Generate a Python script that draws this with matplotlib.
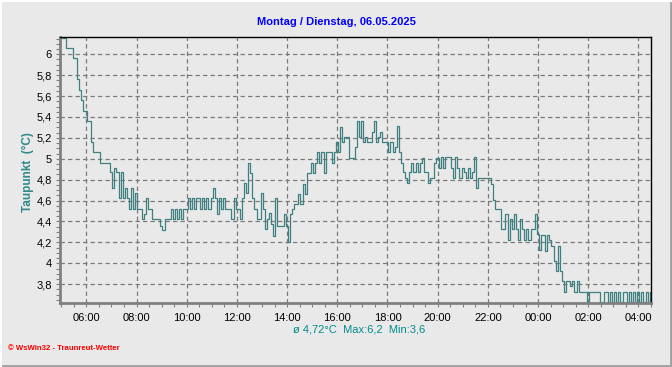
import numpy as np
import pandas as pd
import matplotlib
matplotlib.use("Agg")
import matplotlib.pyplot as plt
import matplotlib.dates as mdates
from matplotlib.ticker import MultipleLocator, FuncFormatter

# -----------------------------------------------------------------------
# Data: dew point, 5-minute samples, Mon 05.05. 04:57 -> Tue 06.05. 04:27
# -----------------------------------------------------------------------
START = "2025-05-05 04:57"
STEP = "5min"
dew_point = [
    6.16, 6.16, 6.16, 6.06, 6.06, 6.06, 5.96, 5.96, 5.76, 5.66, 5.56, 5.46,
    5.46, 5.36, 5.36, 5.16, 5.06, 5.06, 5.06, 4.96, 4.96, 4.96, 4.96, 4.96,
    4.87, 4.72, 4.91, 4.87, 4.62, 4.87, 4.62, 4.72, 4.62, 4.52, 4.72, 4.52,
    4.67, 4.52, 4.52, 4.42, 4.47, 4.62, 4.52, 4.52, 4.42, 4.42, 4.42, 4.42,
    4.36, 4.32, 4.42, 4.42, 4.42, 4.52, 4.42, 4.52, 4.42, 4.52, 4.42, 4.52,
    4.52, 4.62, 4.52, 4.62, 4.52, 4.62, 4.62, 4.52, 4.62, 4.52, 4.62, 4.52,
    4.62, 4.72, 4.62, 4.47, 4.62, 4.52, 4.62, 4.52, 4.52, 4.52, 4.42, 4.62,
    4.52, 4.52, 4.42, 4.62, 4.77, 4.67, 4.96, 4.86, 4.62, 4.52, 4.42, 4.42,
    4.67, 4.52, 4.33, 4.42, 4.48, 4.38, 4.26, 4.62, 4.36, 4.36, 4.36, 4.47,
    4.36, 4.20, 4.47, 4.52, 4.57, 4.57, 4.66, 4.57, 4.76, 4.66, 4.86, 4.86,
    4.96, 4.86, 4.96, 5.06, 4.96, 5.06, 4.86, 5.06, 5.06, 5.06, 4.96, 5.06,
    5.16, 5.06, 5.30, 5.16, 5.21, 5.21, 5.01, 5.01, 5.01, 5.11, 5.36, 5.21,
    5.36, 5.16, 5.21, 5.16, 5.16, 5.26, 5.36, 5.16, 5.21, 5.26, 5.16, 5.16,
    5.16, 5.06, 5.16, 5.06, 5.11, 5.31, 5.06, 4.96, 4.87, 4.82, 4.77, 4.87,
    4.96, 4.87, 4.96, 4.87, 4.96, 5.01, 4.87, 4.87, 4.77, 4.82, 4.82, 4.96,
    5.01, 4.91, 5.02, 4.91, 5.02, 5.02, 5.02, 4.91, 4.82, 5.02, 4.91, 4.82,
    4.91, 4.87, 4.82, 4.91, 4.82, 4.87, 5.02, 4.72, 4.82, 4.82, 4.82, 4.82,
    4.82, 4.82, 4.76, 4.61, 4.52, 4.52, 4.52, 4.33, 4.33, 4.47, 4.22, 4.42,
    4.33, 4.47, 4.33, 4.22, 4.42, 4.33, 4.22, 4.33, 4.22, 4.33, 4.33, 4.47,
    4.28, 4.13, 4.27, 4.27, 4.12, 4.27, 4.22, 4.17, 4.02, 3.93, 4.17, 3.93,
    3.83, 3.73, 3.83, 3.83, 3.78, 3.83, 3.73, 3.83, 3.73, 3.73, 3.73, 3.73,
    3.63, 3.73, 3.73, 3.73, 3.73, 3.73, 3.63, 3.63, 3.73, 3.73, 3.63, 3.73,
    3.63, 3.73, 3.63, 3.73, 3.63, 3.73, 3.73, 3.63, 3.73, 3.63, 3.73, 3.63,
    3.73, 3.63, 3.73, 3.63, 3.73, 3.63, 3.73,
]
times = pd.date_range(START, periods=len(dew_point), freq=STEP)

TITLE = "Montag / Dienstag, 06.05.2025"
YLABEL = "Taupunkt  (°C)"
STATS = "ø 4,72°C  Max:6,2  Min:3,6"
FOOTER = "© WsWin32 - Traunreut-Wetter"
X_RANGE = ("2025-05-05 04:57", "2025-05-06 04:30")
Y_RANGE = (3.62, 6.165)

BG = "#e9e9e9"
LINE = "#3f8080"
TEAL = "#2f8a8a"

plt.rcParams["font.family"] = ["Liberation Sans", "DejaVu Sans"]

fig = plt.figure(figsize=(6.72, 3.67), dpi=100, facecolor=BG)
ax = fig.add_axes([60 / 672, 1 - 303 / 367, 591 / 672, 266 / 367], facecolor=BG)

ax.step(times, dew_point, where="post", color=LINE, lw=0.9)

ax.set_xlim(pd.Timestamp(X_RANGE[0]), pd.Timestamp(X_RANGE[1]))
ax.set_ylim(*Y_RANGE)

# ticks
ax.xaxis.set_major_locator(mdates.HourLocator(byhour=range(0, 24, 2)))
ax.xaxis.set_minor_locator(mdates.MinuteLocator(byminute=[0, 30]))
ax.xaxis.set_major_formatter(mdates.DateFormatter("%H:%M"))
ax.yaxis.set_major_locator(MultipleLocator(0.2))
ax.yaxis.set_minor_locator(MultipleLocator(0.05))
ax.yaxis.set_major_formatter(FuncFormatter(lambda v, p: f"{v:g}".replace(".", ",")))

ax.tick_params(which="both", direction="out", length=3, width=0.8,
               color="#808080", labelsize=8, labelcolor="black")
ax.tick_params(axis="x", pad=4)
ax.tick_params(axis="y", pad=3)

ax.grid(True, which="major", color="#7a7a7a", ls=(0, (3.5, 2.5)), lw=0.9)

for s in ("left", "bottom"):
    ax.spines[s].set_color("#808080")
    ax.spines[s].set_linewidth(2.0)
for s in ("top", "right"):
    ax.spines[s].set_color("black")
    ax.spines[s].set_linewidth(1.0)

# texts
fig.text(0.5, 1 - 22 / 367, TITLE, ha="center", va="center",
         color="#0000ff", fontsize=8, fontweight="bold")
fig.text(28 / 672, 1 - 172 / 367, YLABEL, ha="center", va="center",
         rotation=90, color=TEAL, fontsize=8.5, fontweight="bold")
fig.text(359 / 672, 1 - 330 / 367, STATS, ha="center", va="center",
         color="#008b8b", fontsize=8)
fig.text(8 / 672, 1 - 349 / 367, FOOTER, ha="left", va="center",
         color="red", fontsize=5.6, fontweight="bold")

# panel border
fig.add_artist(plt.Line2D([0, 1], [0.002, 0.002], color="#a0a0a0", lw=2))
fig.add_artist(plt.Line2D([0.998, 0.998], [0, 1], color="#a0a0a0", lw=2))
fig.add_artist(plt.Line2D([0, 1], [0.998, 0.998], color="white", lw=1.5))
fig.add_artist(plt.Line2D([0.002, 0.002], [0, 1], color="white", lw=1.5))

fig.savefig("out.png", dpi=100, facecolor=BG)
